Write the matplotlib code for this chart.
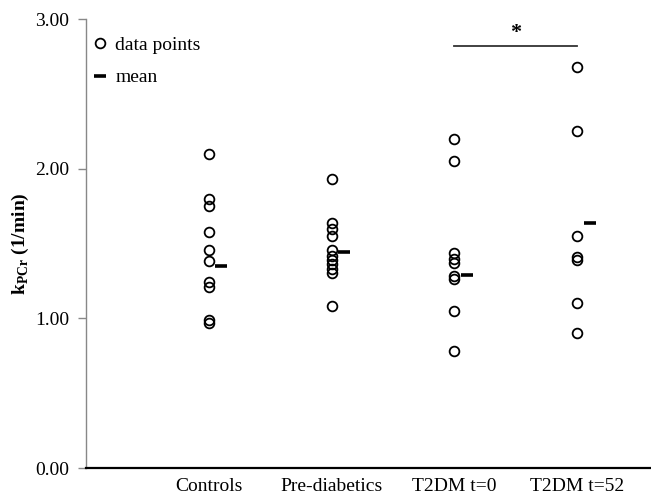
# -*- coding: utf-8 -*-
"""
Scatter of kPCr per group with group means (dot plot)
"""
import matplotlib
matplotlib.use('Agg')
import matplotlib.pyplot as plt
from matplotlib.lines import Line2D

# ============================= Data ========================================
groups = ['Controls', 'Pre-diabetics', 'T2DM t=0', 'T2DM t=52']

controls      = [2.10, 1.80, 1.75, 1.58, 1.46, 1.38, 1.24, 1.21, 0.99, 0.97]
prediabetics  = [1.93, 1.64, 1.60, 1.55, 1.46, 1.42, 1.39, 1.36, 1.33, 1.30,
                 1.08]
t2dm_t0       = [2.20, 2.05, 1.44, 1.40, 1.37, 1.28, 1.26, 1.05, 0.78]
t2dm_t52      = [2.68, 2.25, 1.55, 1.41, 1.39, 1.10, 0.90]

group_means   = [1.35, 1.445, 1.29, 1.64]

sig_pair  = [3, 4]      # groups linked by significance bar
sig_level = 2.82
sig_text  = '*'

# ============================= Settings ====================================
plt.rcParams['font.family'] = ['Liberation Serif', 'DejaVu Serif']
plt.rcParams['mathtext.fontset'] = 'custom'
plt.rcParams['mathtext.rm'] = 'Liberation Serif'
plt.rcParams['mathtext.bf'] = 'Liberation Serif:bold'

fsize = 14
ms    = 7.0     # circle marker size
mew   = 1.3     # circle edge width
mean_off = 0.10 # mean dash offset from points (x units)

# ============================= Plot =========================================
fig = plt.figure(figsize=(6.51, 4.95), dpi=100)
ax = fig.add_axes([0.132, 0.0545, 0.868, 0.907])

all_data = [controls, prediabetics, t2dm_t0, t2dm_t52]
for i, vals in enumerate(all_data):
    xpos = [i + 1] * len(vals)
    ax.plot(xpos, vals, linestyle='none', marker='o', ms=ms,
            mfc='none', mec='black', mew=mew)
    ax.plot(i + 1 + mean_off, group_means[i], linestyle='none', marker='_',
            ms=8.5, mew=2.6, color='black')

# -- significance bar
ax.plot(sig_pair, [sig_level, sig_level], color='#333333', lw=1.3)
ax.text(sum(sig_pair) / 2, sig_level + 0.02, sig_text, ha='center',
        va='bottom', fontsize=16, fontweight='bold')

# -- axes
ax.set_xlim(0, 4.6)
ax.set_ylim(0, 3)
ax.set_yticks([0, 1, 2, 3])
ax.set_yticklabels(['0.00', '1.00', '2.00', '3.00'], fontsize=fsize)
ax.set_xticks([1, 2, 3, 4])
ax.set_xticklabels(groups, fontsize=fsize)
ax.tick_params(axis='x', length=0, pad=7)
ax.tick_params(axis='y', length=6, width=1, color='#888888', pad=6,
               direction='out')

for s in ['top', 'right']:
    ax.spines[s].set_visible(False)
ax.spines['left'].set_color('#888888')
ax.spines['left'].set_linewidth(1.0)
ax.spines['bottom'].set_color('black')
ax.spines['bottom'].set_linewidth(1.6)

ax.set_ylabel(r'$\mathbf{k}_{\mathbf{PCr}}$ (1/min)', fontsize=14,
              fontweight='bold', labelpad=3)

# -- legend
handles = [
    Line2D([], [], linestyle='none', marker='o', ms=ms, mfc='none',
           mec='black', mew=mew),
    Line2D([], [], linestyle='none', marker='_', ms=8.5, mew=2.6,
           color='black'),
]
ax.legend(handles, ['data points', 'mean'], loc='upper left',
          bbox_to_anchor=(-0.02, 1.0), frameon=False, fontsize=fsize,
          handlelength=0.8, handletextpad=0.4, labelspacing=0.75)

fig.savefig('out.png', dpi=100)
